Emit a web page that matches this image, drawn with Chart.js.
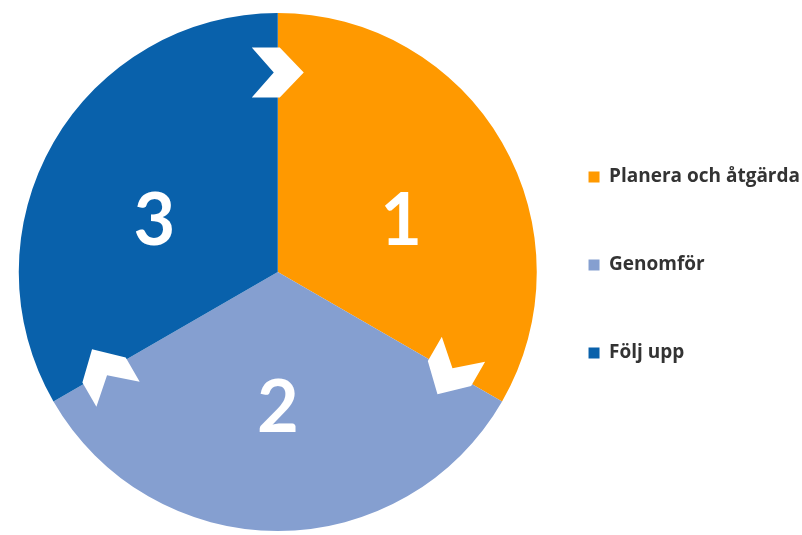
<!DOCTYPE html>
<html>
<head>
<meta charset="utf-8">
<script src="https://cdn.jsdelivr.net/npm/chart.js@4"></script>
<style>
  html, body { margin: 0; padding: 0; background: #ffffff; }
  #wrap { width: 802px; height: 535px; }
</style>
</head>
<body>
<div id="wrap"><canvas id="c" width="802" height="535"></canvas></div>
<script>
const categories = ['Planera och åtgärda', 'Genomför', 'Följ upp'];
const stepNumbers = ['1', '2', '3'];
const values = [1, 1, 1];
const colors = ['#FF9900', '#859FD0', '#0961AB'];

// white numbers inside slices + white chevrons on slice boundaries
const cyclePlugin = {
  id: 'cycle',
  afterDatasetsDraw(chart) {
    const ctx = chart.ctx;
    const arcs = chart.getDatasetMeta(0).data;
    ctx.save();
    arcs.forEach((arc, i) => {
      const { x, y, startAngle, endAngle, outerRadius } = arc.getProps(['x', 'y', 'startAngle', 'endAngle', 'outerRadius'], true);
      // chevron at the start boundary of each slice, pointing clockwise
      const d = outerRadius * 0.77;
      ctx.save();
      ctx.translate(x + Math.cos(startAngle) * d, y + Math.sin(startAngle) * d);
      ctx.rotate(startAngle + Math.PI / 2);
      ctx.beginPath();
      ctx.moveTo(-26, -25);
      ctx.lineTo(2, -25);
      ctx.lineTo(26, 0);
      ctx.lineTo(2, 25);
      ctx.lineTo(-26, 25);
      ctx.lineTo(-4, 0);
      ctx.closePath();
      ctx.fillStyle = '#ffffff';
      ctx.fill();
      ctx.restore();
      // number label
      const mid = (startAngle + endAngle) / 2;
      ctx.fillStyle = '#ffffff';
      ctx.font = '700 72px Lato';
      ctx.textAlign = 'center';
      ctx.textBaseline = 'middle';
      ctx.fillText(stepNumbers[i],
        x + Math.cos(mid) * outerRadius * 0.55,
        y + Math.sin(mid) * outerRadius * 0.48 + 12);
    });
    ctx.restore();
  },
  afterLayout(chart) {
    const lg = chart.legend;
    if (lg) { lg.top -= 7; lg.bottom -= 7; }
  }
};

new Chart(document.getElementById('c'), {
  type: 'pie',
  data: {
    labels: categories,
    datasets: [{
      data: values,
      backgroundColor: colors,
      borderWidth: 0,
      radius: 259
    }]
  },
  options: {
    responsive: false,
    animation: false,
    layout: { padding: { top: 13, bottom: 4, left: 36, right: -8 } },
    plugins: {
      tooltip: { enabled: false },
      legend: {
        position: 'right',
        align: 'center',
        labels: {
          boxWidth: 11,
          boxHeight: 11,
          padding: 69,
          color: '#333333',
          font: { family: 'Open Sans', size: 19, weight: '700' }
        }
      }
    }
  },
  plugins: [cyclePlugin]
});
</script>
</body>
</html>
